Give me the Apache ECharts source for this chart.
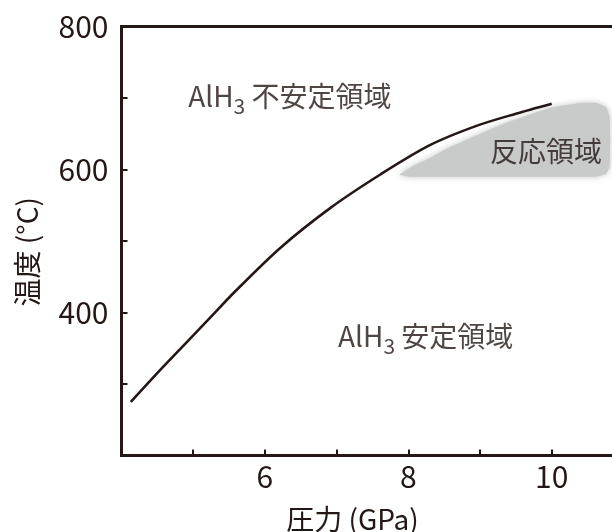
<!DOCTYPE html>
<html>
<head>
<meta charset="utf-8">
<script src="https://cdn.jsdelivr.net/npm/echarts@6/dist/echarts.min.js"></script>
<style>html,body{margin:0;padding:0;background:#fff;}#c{width:612px;height:532px;}</style>
</head>
<body>
<div id="c"></div>
<script>
// Boundary curve (pressure GPa, temperature °C)
const curvePressure = [4.13, 4.6, 5.23, 5.58, 6.21, 6.91, 7.61, 8.30, 8.95, 9.5, 10.0];
const curveTemp     = [275, 326, 392, 429, 490, 546, 593, 634, 661, 678, 692];

// Reaction region outline (pressure GPa, temperature °C)
const regionPressure = [7.88, 8.05, 8.30, 8.58, 9.28, 9.98, 10.40, 10.62, 10.76, 10.81, 10.81, 10.76, 10.62, 8.30, 8.00];
const regionTemp     = [593, 604, 616, 631, 662, 686, 693, 693, 687, 672, 606, 594, 590, 590, 590];

// Tick labels shown
const xTickLabels = [6, 8, 10];
const yTickLabels = [400, 600, 800];

// Annotation texts (anchor = left edge)
const noteText = ['{a|AlH}{s|3}{a| 不安定領域}', '{a|AlH}{s|3}{a| 安定領域}', '{a|反応領域}'];
const notePressure = [4.93, 7.02, 9.14];
const noteTemp = [698, 362, 621];

const INK = '#231815';
const FONT = '"Noto Sans CJK JP", "Noto Sans", sans-serif';

const chart = echarts.init(document.getElementById('c'), null, {renderer: 'canvas'});

const richStyle = {
  a: {fontSize: 28, fontFamily: FONT, color: INK, lineHeight: 34, verticalAlign: 'top'},
  s: {fontSize: 21, fontFamily: FONT, color: INK, lineHeight: 21, verticalAlign: 'bottom'}
};

chart.setOption({
  animation: false,
  backgroundColor: '#fff',
  grid: {left: 121.5, right: -11.4, top: 26.5, bottom: 76.5, outerBoundsMode: 'none', containLabel: false,
    show: true, borderColor: INK, borderWidth: 3, backgroundColor: 'transparent'},
  xAxis: {
    type: 'value', min: 4, max: 11, interval: 1,
    axisLine: {show: true, lineStyle: {color: INK, width: 3}},
    axisTick: {show: true, inside: true, length: 6, lineStyle: {color: INK, width: 2}},
    splitLine: {show: false},
    axisLabel: {
      color: INK, fontSize: 30, fontFamily: FONT, margin: 6,
      formatter: v => xTickLabels.indexOf(v) >= 0 ? String(v) : ''
    }
  },
  yAxis: {
    type: 'value', min: 200, max: 800, interval: 100,
    axisLine: {show: true, lineStyle: {color: INK, width: 3}},
    axisTick: {show: true, inside: true, length: 6, lineStyle: {color: INK, width: 2}},
    splitLine: {show: false},
    axisLabel: {
      color: INK, fontSize: 30, fontFamily: FONT, margin: 13,
      formatter: v => yTickLabels.indexOf(v) >= 0 ? String(v) : ''
    }
  },
  graphic: [
    {type: 'text', x: 352.5, y: 519, z: 10,
      style: {text: '圧力 (GPa)', font: '28px ' + FONT, fill: INK, align: 'center', verticalAlign: 'middle'}},
    {type: 'text', x: 27, y: 251.7, rotation: Math.PI / 2, z: 10,
      style: {text: '温度 (°C)', font: '28px ' + FONT, fill: INK, align: 'center', verticalAlign: 'middle'}}
  ],
  series: [
    {
      type: 'custom', z: 1, silent: true, clip: false,
      data: [[regionPressure[0], regionTemp[0]]],
      renderItem: function (params, api) {
        const pts = regionPressure.map((p, i) => api.coord([p, regionTemp[i]]));
        return {
          type: 'polygon',
          shape: {points: pts, smooth: 0.15},
          style: {fill: '#c9caca', shadowBlur: 6, shadowColor: 'rgba(190,191,191,0.9)'}
        };
      }
    },
    {
      type: 'line', z: 3, smooth: 0.3, symbol: 'none', silent: true,
      data: curvePressure.map((p, i) => [p, curveTemp[i]]),
      lineStyle: {color: INK, width: 2.6}
    },
    {
      type: 'scatter', z: 5, symbolSize: 0, silent: true,
      data: notePressure.map((p, i) => ({value: [p, noteTemp[i]], label: {formatter: noteText[i]}})),
      label: {show: true, position: 'right', distance: 0, rich: richStyle}
    }
  ]
});
</script>
</body>
</html>
